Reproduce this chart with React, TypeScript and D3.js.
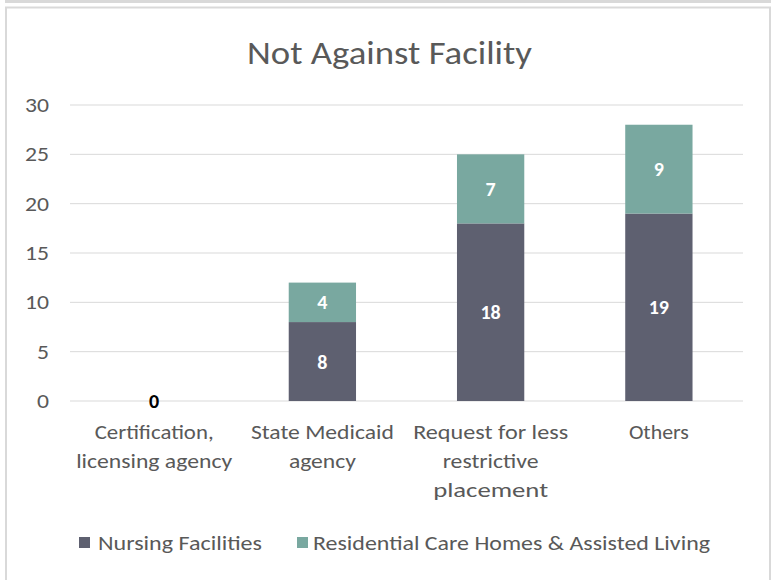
import React from "react";
import * as d3 from "d3";

const categories = [
  ["Certification,", "licensing agency"],
  ["State Medicaid", "agency"],
  ["Request for less", "restrictive", "placement"],
  ["Others"],
];
const categoryKeys = ["Certification, licensing agency", "State Medicaid agency", "Request for less restrictive placement", "Others"];
const nursingFacilities = [0, 8, 18, 19];
const residentialCare = [0, 4, 7, 9];
const seriesNames = ["Nursing Facilities", "Residential Care Homes & Assisted Living"];
const yTicks = [0, 5, 10, 15, 20, 25, 30];

const W = 772;
const H = 580;
const FONT = "Carlito, Lato, 'Open Sans', sans-serif";
const colors = ["#5e6070", "#79a8a0"];

// approximate rendered widths of the label lines (for matching the narrow-font look)
const lineWidths: Record<string, number> = {
  "Certification,": 119,
  "licensing agency": 156,
  "State Medicaid": 143,
  "agency": 67,
  "Request for less": 155,
  "restrictive": 96,
  "placement": 115,
  "Others": 60,
};

export default function App() {
  const x = d3.scaleBand().domain(categoryKeys).range([70, 743]).paddingInner(0.6).paddingOuter(0.3);
  const y = d3.scaleLinear().domain([0, 30]).range([401, 105]);

  const rows = categoryKeys.map((k, i) => ({ key: k, nf: nursingFacilities[i], rc: residentialCare[i] }));
  const stack = d3.stack<any>().keys(["nf", "rc"])(rows);

  return (
    <svg width={W} height={H} style={{ position: "absolute", left: 0, top: 0 }}>
      <rect x={0} y={0} width={W} height={H} fill="#fff" />
      <line x1={5} x2={771} y1={1.5} y2={1.5} stroke="#d9d9d9" strokeWidth={3} />
      <rect x={6} y={7.5} width={764} height={H} fill="#fff" stroke="#d9d9d9" strokeWidth={2} />
      <text x={389.5} y={53} textAnchor="middle" dominantBaseline="central" fontFamily={FONT} fontSize={33} fill="#595959" textLength={285} lengthAdjust="spacingAndGlyphs">
        Not Against Facility
      </text>
      {yTicks.map((t) => (
        <g key={t}>
          <line x1={70} x2={743} y1={y(t)} y2={y(t)} stroke="#d9d9d9" strokeWidth={1} />
          <text x={49} y={y(t)} textAnchor="end" dominantBaseline="central" fontFamily={FONT} fontSize={20} fill="#595959" textLength={t >= 10 ? 24 : 12} lengthAdjust="spacingAndGlyphs">
            {t}
          </text>
        </g>
      ))}
      {stack.map((s, si) =>
        s.map((d, i) => {
          const x0 = x(categoryKeys[i])!;
          const h = y(d[0]) - y(d[1]);
          return h > 0 ? (
            <rect key={`${si}-${i}`} x={x0} y={y(d[1])} width={x.bandwidth()} height={h} fill={colors[si]} />
          ) : null;
        })
      )}
      {stack.map((s, si) =>
        s.map((d, i) => {
          const v = d[1] - d[0];
          if (si === 1 && v === 0) return null;
          const cx = x(categoryKeys[i])! + x.bandwidth() / 2;
          const cy = y((d[0] + d[1]) / 2);
          return (
            <text key={`l${si}-${i}`} x={cx} y={cy} textAnchor="middle" dominantBaseline="central" fontFamily={FONT} fontSize={20} fontWeight="bold" fill={v === 0 ? "#000" : "#fff"}>
              {v}
            </text>
          );
        })
      )}
      {categories.map((lines, i) => {
        const cx = x(categoryKeys[i])! + x.bandwidth() / 2;
        return (
          <g key={i}>
            {lines.map((ln, j) => (
              <text key={j} x={cx} y={432 + j * 29} textAnchor="middle" dominantBaseline="central" fontFamily={FONT} fontSize={20} fill="#595959" textLength={lineWidths[ln]} lengthAdjust="spacingAndGlyphs">
                {ln}
              </text>
            ))}
          </g>
        );
      })}
      <g>
        <rect x={79} y={537} width={11} height={11} fill={colors[0]} />
        <text x={98} y={543} dominantBaseline="central" fontFamily={FONT} fontSize={20} fill="#595959" textLength={164} lengthAdjust="spacingAndGlyphs">{seriesNames[0]}</text>
        <rect x={297} y={537} width={11} height={11} fill={colors[1]} />
        <text x={313} y={543} dominantBaseline="central" fontFamily={FONT} fontSize={20} fill="#595959" textLength={397} lengthAdjust="spacingAndGlyphs">{seriesNames[1]}</text>
      </g>
    </svg>
  );
}
